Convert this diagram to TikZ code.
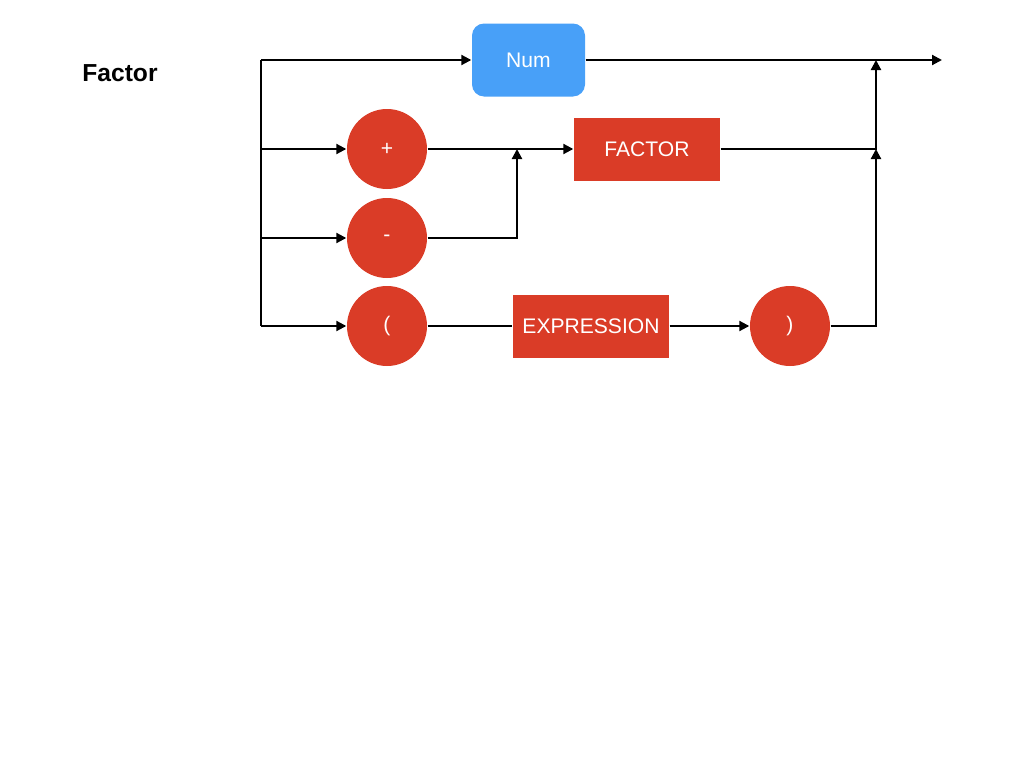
\documentclass[tikz,border=0pt]{standalone}
\usepackage{fontspec}
\setmainfont{Liberation Sans}
\usetikzlibrary{arrows.meta}
\definecolor{termred}{HTML}{DA3C27}
\definecolor{numblue}{HTML}{48A0F8}
\tikzset{
  term/.style={circle, fill=termred, minimum size=0.8cm, inner sep=0pt, text=white, font=\fontsize{6}{7}\selectfont},
  nonterm/.style={rectangle, fill=termred, minimum height=0.63cm, inner sep=0pt, text=white, font=\fontsize{6}{7}\selectfont},
  wire/.style={line width=0.6pt},
  arrow/.style={wire, -{Triangle[length=1mm,width=1mm]}},
}
\begin{document}
\begin{tikzpicture}
\useasboundingbox (0,0) rectangle (10.24,-7.68);
\node[font=\fontsize{7}{8}\selectfont\bfseries] (title) at (1.20,-0.73) {Factor};
\node[rectangle, rounded corners=0.12cm, fill=numblue, text=white, minimum width=1.13cm,
  minimum height=0.73cm, inner sep=0pt, font=\fontsize{6}{7}\selectfont] (num) at (5.285,-0.60) {Num};
\node[term] (plus) at (3.87,-1.49) {+};
\node[term] (minus) at (3.87,-2.38) {-};
\node[term] (lpar) at (3.87,-3.26) {(};
\node[term] (rpar) at (7.90,-3.26) {)};
\node[nonterm, minimum width=1.46cm] (fac) at (6.47,-1.49) {FACTOR};
\node[nonterm, minimum width=1.56cm] (expr) at (5.91,-3.26) {EXPRESSION};
% split points and joins
\coordinate (s1) at (2.61,-0.60);
\coordinate (s2) at (2.61,-1.49);
\coordinate (s3) at (2.61,-2.38);
\coordinate (s4) at (2.61,-3.26);
\coordinate (j1) at (5.17,-1.49);
\coordinate (j2) at (8.76,-0.60);
\coordinate (j3) at (8.76,-1.49);
\coordinate (out) at (9.42,-0.60);
\draw[wire] (s1) -- (s4);
\draw[arrow] (s1) -- (num.west);
\draw[arrow] (s2) -- (plus.west);
\draw[arrow] (s3) -- (minus.west);
\draw[arrow] (s4) -- (lpar.west);
\draw[arrow] (plus.east) -- (fac.west);
\draw[arrow] (minus.east) -| (j1);
\draw[wire] (lpar.east) -- (expr.west);
\draw[arrow] (expr.east) -- (rpar.west);
\draw[arrow] (rpar.east) -| (j3);
\draw[arrow] (fac.east) -| (j2);
\draw[arrow] (num.east) -- (out);
\end{tikzpicture}
\end{document}
